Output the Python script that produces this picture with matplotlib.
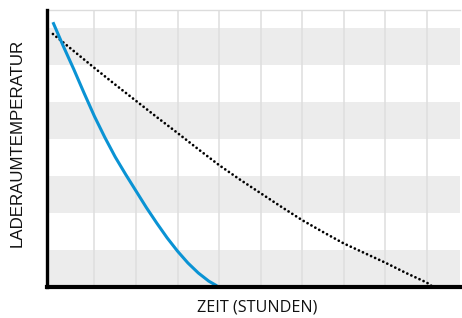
import matplotlib
matplotlib.use("Agg")
import matplotlib.pyplot as plt

# Data
blue_x = [0, 0.25, 0.5, 0.75, 1, 1.25, 1.5, 1.75, 2, 2.25, 2.5, 2.75, 3, 3.25, 3.5, 3.75, 3.95]
blue_y = [7.17, 6.52, 5.9, 5.25, 4.62, 4.05, 3.52, 3.05, 2.6, 2.15, 1.73, 1.33, 0.97, 0.65, 0.38, 0.16, 0.03]

dot_x = [0, 0.5, 1, 1.5, 2, 2.5, 3, 3.5, 4, 4.5, 5, 5.5, 6, 6.5, 7, 7.5, 8, 8.5, 9, 9.15]
dot_y = [6.85, 6.39, 5.93, 5.48, 5.04, 4.6, 4.17, 3.73, 3.3, 2.91, 2.54, 2.17, 1.81, 1.49,
         1.18, 0.92, 0.66, 0.38, 0.12, 0.0]

grid_x = [1, 2, 3, 4, 5, 6, 7, 8, 9]
bands = [(0, 1), (2, 3), (4, 5), (6, 7)]

x_label = "ZEIT (STUNDEN)"
y_label = "LADERAUMTEMPERATUR"

fig = plt.figure(figsize=(4.62, 3.18), dpi=100)
W, H = 462, 318
left, right, top, bottom = 46.7, 460, 10, 287
ax = fig.add_axes([left / W, (H - bottom) / H, (right - left) / W, (bottom - top) / H])

ax.set_xlim(-0.15, 9.8)
ax.set_ylim(0, 7.5)

for lo, hi in bands:
    ax.axhspan(lo, hi, color="#ececec", lw=0, zorder=0)
for gx in grid_x:
    ax.axvline(gx, color="#dedede", lw=1.1, zorder=1)

ax.plot(dot_x, dot_y, color="black", lw=2.0, linestyle=(0, (0.01, 1.6)),
        dash_capstyle="round", zorder=3)
ax.plot(blue_x, blue_y, color="#0a93d4", lw=2.2, solid_capstyle="butt",
        solid_joinstyle="round", zorder=4)

ax.spines["right"].set_visible(False)
ax.spines["top"].set_color("#dcdcdc")
ax.spines["top"].set_linewidth(1.0)
ax.spines["left"].set_color("black")
ax.spines["left"].set_linewidth(2.4)
ax.spines["bottom"].set_color("black")
ax.spines["bottom"].set_linewidth(3.0)
for s in ["left", "bottom"]:
    ax.spines[s].set_zorder(5)

ax.set_xticks([])
ax.set_yticks([])

ax.set_xlabel(x_label, fontsize=11.6, family=["Open Sans", "DejaVu Sans"], color="#111111")
ax.set_ylabel(y_label, fontsize=12.2, family=["Liberation Sans", "DejaVu Sans"], color="#111111")
ax.xaxis.set_label_coords(0.51, -0.045)
ax.yaxis.set_label_coords(-0.053, 0.52)

fig.savefig("out.png", dpi=100)
